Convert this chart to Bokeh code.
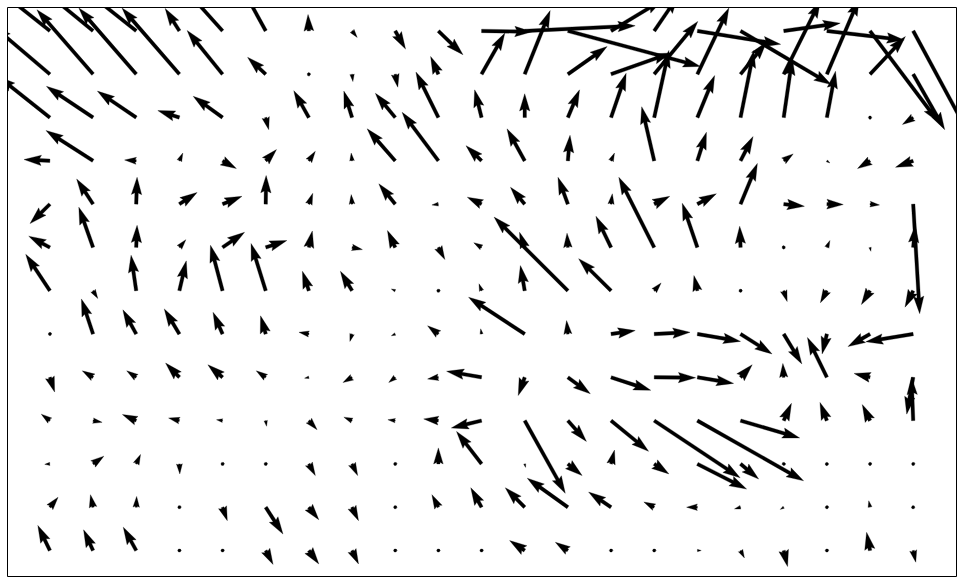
import numpy as np
from bokeh.plotting import figure
from bokeh.models import Range1d
from bokeh.embed import file_html
from bokeh.resources import INLINE

# grid positions (columns 0..20, rows 0..12, row 0 at the bottom)
x_grid = list(range(21))
y_grid = list(range(13))

# U / V components, one list per grid row (bottom row first)
U = [
    [-0.28, -0.22, -0.30, 0, 0, 0.17, 0.23, 0.15, 0, 0, 0, -0.35, -0.29, 0, 0, 0.09, 0.09, 0.09, 0, -0.08, 0.06],
    [0.19, -0.06, 0.01, 0, 0.11, 0.40, 0.23, 0.15, 0, -0.15, -0.25, -0.45, -0.94, -0.52, -0.24, -0.25, -0.14, -0.08, 0, -0.03, -0.04],
    [-0.12, 0.25, 0.10, 0.01, 0, 0, 0.15, 0.13, 0, 0.0, -0.58, 0.02, 0.33, 0.08, 0.34, 1.14, 0.42, 0.05, -0.04, 0, 0],
    [-0.20, 0.21, -0.32, -0.25, -0.14, 0.02, 0.19, -0.19, -0.17, -0.34, -0.70, 0.94, 0.43, 0.87, 1.99, 2.46, 1.37, 0.18, -0.16, -0.18, -0.04],
    [0.11, -0.25, -0.22, -0.32, -0.34, -0.22, -0.10, -0.21, -0.15, -0.25, -0.81, -0.15, 0.52, 0.92, 0.96, 0.84, 0.27, -0.02, -0.45, -0.37, -0.15],
    [0.02, -0.27, -0.31, -0.35, -0.22, -0.12, -0.23, -0.05, -0.09, -0.25, -0.02, -1.30, -0.03, 0.56, 0.83, 1.0, 0.73, 0.42, -0.11, -0.51, -1.10],
    [-0.56, 0.11, -0.12, 0.16, -0.28, -0.34, -0.15, -0.27, -0.09, 0, -0.06, -0.10, -1.71, -0.75, 0.16, -0.08, 0.04, 0.08, -0.15, -0.20, -0.19],
    [-0.49, -0.33, 0.02, 0.15, 0.51, 0.49, 0.08, 0.24, -0.18, 0.15, -0.18, -0.12, -0.02, -0.35, -0.82, -0.35, -0.02, 0.0, 0.07, 0.02, 0.05],
    [-0.46, -0.38, 0.02, 0.41, 0.45, 0.01, 0.09, -0.02, -0.38, -0.15, -0.33, -0.33, -0.23, 0.03, 0.36, 0.44, 0.39, 0.48, 0.38, 0.22, 0.15],
    [-0.60, -1.09, -0.27, 0.08, 0.32, 0.25, 0.15, -0.02, -0.65, -0.84, -0.36, -0.41, 0.05, 0.08, -0.29, 0.21, 0.29, 0.22, 0.07, -0.29, -0.41],
    [-1.2, -1.08, -0.90, -0.50, -0.68, 0.07, -0.35, -0.19, -0.46, -0.52, -0.16, 0.0, 0.27, 0.35, 0.34, 0.40, 0.31, 0.20, 0.20, -0.03, -0.25],
    [-1.3, -1.30, -1.33, -1.33, -0.82, -0.42, -0.05, 0.02, 0.06, -0.18, 0.54, 0.59, 0.91, 1.39, 1.01, 0.73, 0.60, 0.85, 0.75, 0.82, 0.73],
    [-1.2, -1.1, -1.2, -0.33, -0.9, -0.55, -0.02, 0.12, 0.24, 0.57, 1.17, 2.56, 3.07, 1.2, 0.55, 1.93, 2.10, 1.31, 1.79, 1.59, 1.3],
]
V = [
    [0.58, 0.48, 0.54, 0, 0, -0.32, -0.31, -0.31, 0, 0, 0, 0.23, 0.19, 0, 0, 0.0, -0.17, -0.37, 0, 0.42, -0.27],
    [0.23, 0.29, 0.25, 0, -0.31, -0.62, -0.29, -0.31, 0, 0.29, 0.45, 0.45, 0.67, 0.35, 0.12, 0.0, -0.04, -0.05, 0, 0.15, 0.0],
    [-0.01, 0.18, 0.22, -0.23, 0, 0, -0.27, -0.27, 0, 0.37, 0.75, -0.08, -0.27, 0.32, -0.23, -0.58, -0.35, -0.05, -0.02, 0, 0],
    [0.15, -0.04, 0.14, 0.06, 0.02, -0.13, -0.21, 0.08, 0.02, 0.04, -0.17, -1.68, -0.48, -0.71, -1.32, -1.39, -0.40, 0.40, 0.42, 0.37, 1.0],
    [-0.34, 0.15, 0.15, 0.33, 0.29, 0.15, -0.02, -0.12, -0.12, -0.04, 0.14, -0.42, -0.38, -0.30, -0.01, -0.14, 0.29, 0.32, 0.92, 0.09, -0.85],
    [0.0, 0.81, 0.56, 0.58, 0.50, 0.42, 0.04, -0.17, -0.04, 0.19, 0.12, 0.85, 0.31, 0.08, 0.04, -0.17, -0.46, -0.69, -0.46, -0.29, -0.18],
    [0.84, -0.18, 0.82, 0.69, 1.05, 1.09, 0.45, 0.45, 0.04, 0, 0.16, 0.58, 1.70, 0.74, 0.18, 0.35, 0.01, -0.25, -0.28, -0.32, -0.38],
    [0.26, 0.93, 0.51, 0.18, 0.35, 0.16, 0.38, -0.05, 0.39, -0.28, 0.11, 0.35, 0.33, 0.72, 1.62, 1.02, 0.49, 0.06, 0.16, -0.09, 0.51],
    [-0.45, 0.58, 0.62, 0.27, 0.18, 0.66, 0.25, 0.22, 0.47, -0.02, 0.16, 0.39, 0.62, 0.24, 0.18, 0.24, 0.94, -0.05, -0.01, -0.02, -2.53],
    [0.03, 0.70, 0.02, 0.18, -0.18, 0.26, 0.22, 0.18, 0.74, 1.12, 0.35, 0.74, 0.59, 0.18, 1.25, 0.66, 0.56, 0.16, -0.05, -0.18, -0.15],
    [0.95, 0.72, 0.61, 0.16, 0.49, -0.28, 0.62, 0.61, 0.56, 1.05, 0.64, 0.55, 0.64, 1.02, 1.55, 0.97, 1.55, 1.38, 1.07, -0.06, -0.16],
    [1.1, 1.49, 1.53, 1.53, 1.01, 0.39, -0.04, -0.17, -0.30, 0.41, 0.95, 1.47, 0.64, 0.49, 1.22, 1.53, 0.74, 1.7, 1.75, 0.87, -1.28],
    [0.95, 0.9, 0.95, 0.52, 1.0, 1.0, 0.38, -0.15, -0.42, -0.55, -0.02, 0.12, -0.82, 0.72, 0.8, -0.31, -1.24, 0.18, -0.21, -2.11, -2.4],
]

# quiver-style arrow geometry (in units of the shaft width)
SHAFT = 0.08
HEADWIDTH, HEADLENGTH, HEADAXIS = 3.0, 5.0, 4.5
MINSHAFT, MINLENGTH = 1.0, 1.0


def arrow_polygon(x, y, u, v):
    L = float(np.hypot(u, v)) / SHAFT
    minsh = MINSHAFT * HEADLENGTH
    if L < MINLENGTH:
        th = np.arange(8) * np.pi / 3.0
        X = np.cos(th) * MINLENGTH * 0.5
        Y = np.sin(th) * MINLENGTH * 0.5
    elif L < minsh:
        s = L / minsh
        X = s * np.array([0, minsh - HEADAXIS, minsh - HEADLENGTH, minsh,
                          minsh - HEADLENGTH, minsh - HEADAXIS, 0, 0])
        Y = s * 0.5 * np.array([1, 1, HEADWIDTH, 0, -HEADWIDTH, -1, -1, 1])
    else:
        X = np.array([0, L - HEADAXIS, L - HEADLENGTH, L,
                      L - HEADLENGTH, L - HEADAXIS, 0, 0])
        Y = 0.5 * np.array([1, 1, HEADWIDTH, 0, -HEADWIDTH, -1, -1, 1])
    ang = np.arctan2(v, u)
    c, s_ = np.cos(ang), np.sin(ang)
    xs = x + SHAFT * (X * c - Y * s_)
    ys = y + SHAFT * (X * s_ + Y * c)
    return list(xs), list(ys)


all_xs, all_ys = [], []
for r, yv in enumerate(y_grid):
    for cidx, xv in enumerate(x_grid):
        px, py = arrow_polygon(xv, yv, U[r][cidx], V[r][cidx])
        all_xs.append(px)
        all_ys.append(py)

p = figure(width=963, height=583, output_backend="svg", toolbar_location=None,
           x_range=Range1d(-0.982, 21.003), y_range=Range1d(-0.600, 12.541),
           min_border_left=7, min_border_right=7, min_border_top=7, min_border_bottom=7)
p.xaxis.visible = False
p.yaxis.visible = False
p.xgrid.visible = False
p.ygrid.visible = False
p.outline_line_color = "black"
p.outline_line_width = 1
p.outline_line_alpha = 1.0
p.background_fill_color = "white"
p.border_fill_color = "white"

p.patches(all_xs, all_ys, fill_color="black", line_color="black", line_width=0.3)

open("out.html", "w").write(file_html(p, INLINE))
